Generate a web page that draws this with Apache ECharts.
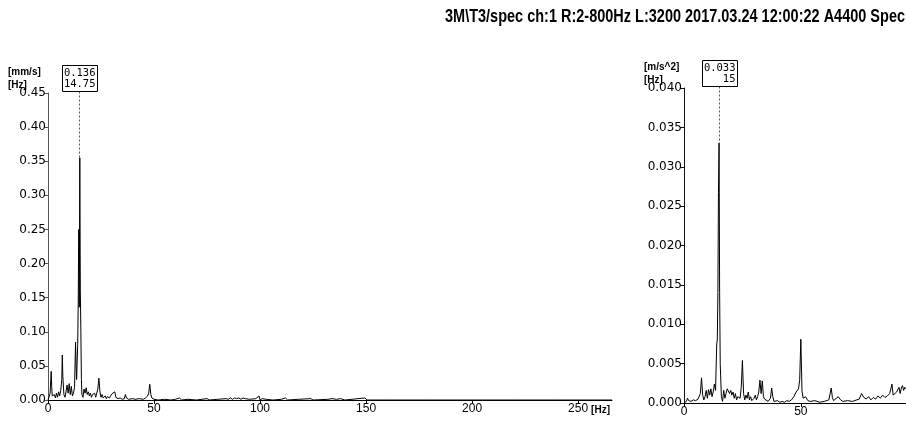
<!DOCTYPE html>
<html>
<head>
<meta charset="utf-8">
<script src="https://cdn.jsdelivr.net/npm/echarts@6/dist/echarts.min.js"></script>
<style>
  html, body { margin: 0; padding: 0; background: #fff; }
  #chart { width: 906px; height: 428px; }
</style>
</head>
<body>
<div id="chart"></div>
<script>
// Header line of the measurement
const titleText = '3M\\T3/spec ch:1 R:2-800Hz L:3200 2017.03.24 12:00:22 A4400 Spec';

// Velocity spectrum (mm/s) vs frequency (Hz)
const velFreq = [
  0, 0.5, 1, 1.5, 1.75, 2, 2.5, 3, 3.5, 4, 4.5, 5, 5.5, 6, 6.5, 6.75, 7, 7.5, 8, 8.5,
  9, 9.5, 10, 10.5, 11, 11.5, 12, 12.5, 13, 13.25, 13.5, 14, 14.25, 14.5, 14.75, 15, 15.25, 15.5, 15.75, 16,
  16.5, 17, 17.5, 18, 18.5, 19, 19.5, 20, 20.5, 21, 21.5, 22, 22.5, 23, 23.5, 24, 24.5, 25, 25.5, 26,
  27, 27.5, 28, 29, 29.5, 30, 30.5, 31, 31.5, 32, 32.5, 33, 34, 35, 36, 36.5, 37, 38, 40, 41,
  43, 45, 46, 47, 47.5, 48, 48.5, 49, 50, 52, 55, 58, 60, 62, 63, 66, 70, 75, 76, 80,
  84, 85, 86, 87, 88, 89, 90, 91, 92, 93, 95, 98, 99.5, 100, 101, 103, 106, 110, 112, 113,
  118, 124, 125, 132, 134, 136, 138, 140, 149.5, 150.5, 160, 180, 200, 220, 240, 266
];
const velAmp = [
  0.000, 0.004, 0.010, 0.042, 0.020, 0.006, 0.004, 0.008, 0.003, 0.010, 0.004, 0.012, 0.006, 0.014, 0.030, 0.066, 0.035, 0.008, 0.004, 0.012,
  0.022, 0.010, 0.024, 0.008, 0.020, 0.006, 0.010, 0.018, 0.085, 0.050, 0.030, 0.080, 0.140, 0.250, 0.136, 0.355, 0.160, 0.100, 0.030, 0.008,
  0.004, 0.016, 0.010, 0.018, 0.008, 0.012, 0.006, 0.010, 0.004, 0.008, 0.006, 0.010, 0.004, 0.006, 0.016, 0.032, 0.012, 0.004, 0.008, 0.003,
  0.006, 0.002, 0.005, 0.003, 0.006, 0.004, 0.010, 0.008, 0.012, 0.004, 0.006, 0.002, 0.003, 0.001, 0.002, 0.008, 0.003, 0.001, 0.002, 0.001,
  0.002, 0.001, 0.003, 0.006, 0.010, 0.023, 0.008, 0.003, 0.001, 0.000, 0.001, 0.000, 0.001, 0.003, 0.000, 0.001, 0.000, 0.002, 0.000, 0.001,
  0.002, 0.001, 0.003, 0.001, 0.003, 0.002, 0.003, 0.001, 0.003, 0.002, 0.001, 0.002, 0.006, 0.000, 0.002, 0.001, 0.000, 0.001, 0.003, 0.000,
  0.001, 0.002, 0.000, 0.001, 0.002, 0.001, 0.002, 0.000, 0.003, 0.000, 0.000, 0.000, 0.000, 0.000, 0.000, 0.000
];

// Acceleration spectrum (m/s^2) vs frequency (Hz)
const accFreq = [
  0, 1, 1.5, 2, 3, 4, 5, 6, 7, 7.5, 8, 8.5, 9, 9.5, 10, 10.5, 11, 11.5, 12, 12.5,
  13, 13.5, 14, 14.25, 14.5, 14.75, 15, 15.25, 15.5, 16, 16.5, 17, 17.5, 18, 18.5, 19, 19.5, 20, 20.5, 21,
  21.5, 22, 22.5, 23, 24, 24.5, 25, 25.5, 26, 26.5, 27, 27.5, 28, 28.5, 29, 30, 30.5, 31, 31.5, 32,
  32.5, 33, 33.5, 34, 34.5, 35, 36, 37, 37.5, 38, 38.5, 40, 41, 42, 43, 44, 45, 46, 47, 48,
  49, 49.5, 50, 50.5, 51, 52, 53, 54, 56, 58, 60, 62, 63, 63.5, 64, 66, 67, 68, 70, 72,
  74, 75, 76, 77, 78, 79, 80, 81, 82, 83, 84, 85, 86, 87, 88, 89, 89.5, 90, 91, 92,
  92.5, 93, 93.5, 94, 94.5, 95
];
const accAmp = [
  0.0000, 0.0002, 0.0006, 0.0003, 0.0002, 0.0004, 0.0003, 0.0005, 0.0012, 0.0032, 0.0010, 0.0004, 0.0008, 0.0016, 0.0006, 0.0017, 0.0010, 0.0018, 0.0008, 0.0014,
  0.0024, 0.0016, 0.0075, 0.0080, 0.0140, 0.0267, 0.0330, 0.0140, 0.0050, 0.0008, 0.0002, 0.0016, 0.0006, 0.0012, 0.0018, 0.0020, 0.0012, 0.0016, 0.0010, 0.0014,
  0.0006, 0.0012, 0.0004, 0.0008, 0.0006, 0.0020, 0.0054, 0.0012, 0.0004, 0.0010, 0.0006, 0.0014, 0.0004, 0.0008, 0.0003, 0.0006, 0.0010, 0.0004, 0.0008, 0.0014,
  0.0029, 0.0012, 0.0028, 0.0008, 0.0005, 0.0003, 0.0002, 0.0006, 0.0019, 0.0008, 0.0002, 0.0003, 0.0001, 0.0002, 0.0001, 0.0003, 0.0002, 0.0004, 0.0008, 0.0014,
  0.0018, 0.0029, 0.0081, 0.0015, 0.0006, 0.0008, 0.0003, 0.0002, 0.0003, 0.0001, 0.0002, 0.0004, 0.0019, 0.0007, 0.0003, 0.0008, 0.0004, 0.0002, 0.0003, 0.0002,
  0.0004, 0.0005, 0.0012, 0.0007, 0.0005, 0.0008, 0.0004, 0.0007, 0.0005, 0.0009, 0.0006, 0.0010, 0.0007, 0.0009, 0.0012, 0.0024, 0.0010, 0.0008, 0.0014, 0.0020,
  0.0012, 0.0019, 0.0022, 0.0016, 0.0020, 0.0018
];

// Axis ticks
const velYTicks = [0, 0.05, 0.10, 0.15, 0.20, 0.25, 0.30, 0.35, 0.40, 0.45];
const velXTicks = [0, 50, 100, 150, 200, 250];
const velXMax = 266;
const accYTicks = [0, 0.005, 0.010, 0.015, 0.020, 0.025, 0.030, 0.035, 0.040];
const accXTicks = [0, 50];
const accXMax = 95;

// Cursor readouts [Hz, amplitude]
const velCursor = [14.75, 0.136];
const accCursor = [15, 0.033];

const velUnits = ['[mm/s]', '[Hz]'];
const accUnits = ['[m/s^2]', '[Hz]'];
const freqUnit = '[Hz]';

const pairs = (fx, fy) => fx.map((f, i) => [f, fy[i]]);

const chart = echarts.init(document.getElementById('chart'), null, { renderer: 'canvas' });

const axisLabelFont = { fontFamily: 'DejaVu Sans', fontSize: 12, color: '#000' };
const xLabelFont = { fontFamily: 'Liberation Sans', fontSize: 12, color: '#000' };

function yAxis(gridIndex, ticks, digits, lineColor) {
  return {
    type: 'value', gridIndex,
    min: ticks[0], max: ticks[ticks.length - 1], interval: ticks[1] - ticks[0],
    axisLine: { show: true, lineStyle: { color: lineColor, width: 1 } },
    axisTick: { show: true, length: 4, lineStyle: { color: lineColor } },
    axisLabel: Object.assign({ margin: 2, formatter: v => v.toFixed(digits) }, axisLabelFont),
    splitLine: { show: false }
  };
}
function xAxis(gridIndex, ticks, max) {
  return {
    type: 'value', gridIndex, min: 0, max,
    axisLine: { show: true, onZero: false, lineStyle: { color: '#000', width: 1 } },
    axisTick: { show: true, length: 4, customValues: ticks, lineStyle: { color: '#000' } },
    axisLabel: Object.assign({ margin: 3, customValues: ticks }, xLabelFont),
    splitLine: { show: false }
  };
}

chart.setOption({
  animation: false,
  backgroundColor: '#fff',
  grid: [
    { left: 48, top: 93, width: 564, height: 307 },
    { left: 684, top: 88, right: 0, height: 315 }
  ],
  xAxis: [xAxis(0, velXTicks, velXMax), xAxis(1, accXTicks, accXMax)],
  yAxis: [yAxis(0, velYTicks, 2, '#555'), yAxis(1, accYTicks, 3, '#111')],
  series: [
    {
      type: 'line', xAxisIndex: 0, yAxisIndex: 0, data: pairs(velFreq, velAmp),
      showSymbol: false, lineStyle: { color: '#000', width: 1 }, silent: true
    },
    {
      type: 'line', xAxisIndex: 1, yAxisIndex: 1, data: pairs(accFreq, accAmp),
      showSymbol: false, lineStyle: { color: '#000', width: 1 }, silent: true
    }
  ]
});

// Unit captions, cursor readout boxes and the frequency unit label
function overlay(gridIndex, yTicks, cursor, amps, digits, freqText, units) {
  const finder = { xAxisIndex: gridIndex, yAxisIndex: gridIndex };
  const peak = Math.max.apply(null, amps);
  const top = chart.convertToPixel(finder, [0, yTicks[yTicks.length - 1]]);
  const peakPx = chart.convertToPixel(finder, [cursor[0], peak]);
  const cx = Math.round(peakPx[0]) + 0.5;
  const boxW = 35, boxH = 26;
  const boxBottom = Math.round(top[1]) - 1.5;
  const boxTop = boxBottom - boxH;
  const boxLeft = Math.round(cx - boxW / 2) + 0.5;
  const monoFont = '10.5px "DejaVu Sans Mono"';
  const unitFont = 'bold 10px "Liberation Sans"';
  const axisLeft = Math.round(top[0]);
  return [
    { type: 'text', left: axisLeft - 40, top: boxTop + 2, style: { text: units[0], font: unitFont, fill: '#000' } },
    { type: 'text', left: axisLeft - 40, top: boxTop + 15, style: { text: units[1], font: unitFont, fill: '#000' } },
    { type: 'line', shape: { x1: cx, y1: boxBottom, x2: cx, y2: peakPx[1] }, style: { stroke: '#555', lineWidth: 1, lineDash: [2, 2] } },
    { type: 'rect', shape: { x: boxLeft, y: boxTop, width: boxW, height: boxH }, style: { fill: '#fff', stroke: '#000', lineWidth: 1 } },
    { type: 'text', x: boxLeft + boxW - 2, y: boxTop + 2, style: { text: cursor[1].toFixed(digits), font: monoFont, fill: '#000', align: 'right' } },
    { type: 'text', x: boxLeft + boxW - 2, y: boxTop + 13, style: { text: freqText, font: monoFont, fill: '#000', align: 'right' } }
  ];
}

// Header, condensed horizontally to a fixed width at the top right
const titleFont = 'bold 18px "Liberation Sans"';
const measureCtx = document.createElement('canvas').getContext('2d');
measureCtx.font = titleFont;
const titleWidth = measureCtx.measureText(titleText).width;
const titleScale = 460 / titleWidth;

const tick250 = chart.convertToPixel({ xAxisIndex: 0, yAxisIndex: 0 }, [velXTicks[velXTicks.length - 1], 0]);
chart.setOption({
  graphic: overlay(0, velYTicks, velCursor, velAmp, 3, velCursor[0].toFixed(2), velUnits)
    .concat(overlay(1, accYTicks, accCursor, accAmp, 3, String(accCursor[0]), accUnits))
    .concat([
      { type: 'text', x: tick250[0] + 13, y: tick250[1] + 5, style: { text: freqUnit, font: 'bold 10px "Liberation Sans"', fill: '#000' } },
      { type: 'text', x: 905, y: 8, scaleX: titleScale, style: { text: titleText, font: titleFont, fill: '#000', align: 'right' } }
    ])
});
</script>
</body>
</html>
